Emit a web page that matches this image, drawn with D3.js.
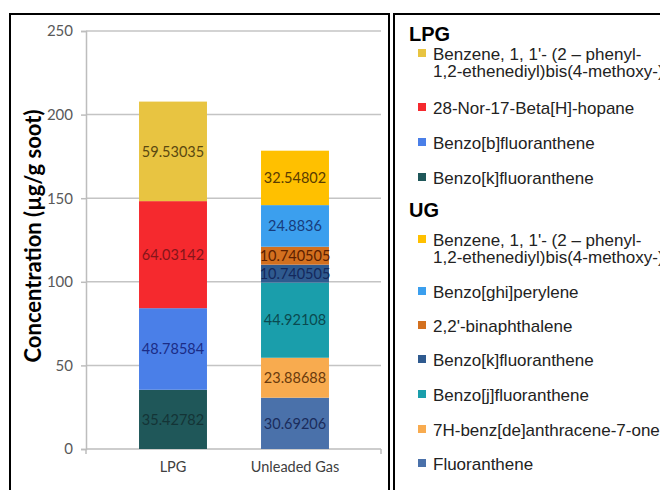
<!DOCTYPE html>
<html>
<head>
<meta charset="utf-8">
<script src="https://cdn.jsdelivr.net/npm/d3@7"></script>
<style>
  html, body { margin: 0; padding: 0; background: #fff; }
  svg { display: block; }
</style>
</head>
<body>
<svg id="chart" width="660" height="490"></svg>
<script>
// ---------- data ----------
const categories = ["LPG", "Unleaded Gas"];
const yTicks = [0, 50, 100, 150, 200, 250];

// LPG series, bottom to top of the stack
const lpgNames = [
  "Benzo[k]fluoranthene",
  "Benzo[b]fluoranthene",
  "28-Nor-17-Beta[H]-hopane",
  "Benzene, 1, 1'- (2 – phenyl-|1,2-ethenediyl)bis(4-methoxy-)"
];
const lpgValues = [35.42782, 48.78584, 64.03142, 59.53035];
const lpgLabels = ["35.42782", "48.78584", "64.03142", "59.53035"];
const lpgColors = ["#1f5759", "#4a7fe8", "#f5292e", "#e8c441"];
const lpgLabelColors = ["#143436", "#1b2c86", "#85151a", "#5a4810"];

// Unleaded Gas series, bottom to top of the stack
const ugNames = [
  "Fluoranthene",
  "7H-benz[de]anthracene-7-one",
  "Benzo[j]fluoranthene",
  "Benzo[k]fluoranthene",
  "2,2'-binaphthalene",
  "Benzo[ghi]perylene",
  "Benzene, 1, 1'- (2 – phenyl-|1,2-ethenediyl)bis(4-methoxy-)"
];
const ugValues = [30.69206, 23.88688, 44.92108, 10.740505, 10.740505, 24.8836, 32.54802];
const ugLabels = ["30.69206", "23.88688", "44.92108", "10.740505", "10.740505", "24.8836", "32.54802"];
const ugColors = ["#4a71aa", "#f8ab4f", "#1a9eab", "#2f5a8f", "#d3701f", "#3b9fee", "#ffc000"];
const ugLabelColors = ["#1a2c5c", "#6a3a0c", "#0a4a50", "#14285c", "#5c2000", "#173c7c", "#5a3c00"];

// ---------- drawing ----------
const svg = d3.select("#chart");

// panel borders
svg.append("rect").attr("x", 10).attr("y", 14).attr("width", 379).attr("height", 500)
  .attr("fill", "#fff").attr("stroke", "#000").attr("stroke-width", 2);
svg.append("rect").attr("x", 394).attr("y", 14).attr("width", 300).attr("height", 500)
  .attr("fill", "#fff").attr("stroke", "#000").attr("stroke-width", 2);

const y = d3.scaleLinear().domain([0, 250]).range([449, 31]);
const x = d3.scaleBand().domain(categories).range([112, 356])
  .paddingInner(0.443).paddingOuter(0.2215);
const plotLeft = 86, plotRight = 381;

// gridlines
svg.append("g").selectAll("line").data(yTicks.filter(d => d > 0)).join("line")
  .attr("x1", plotLeft).attr("x2", plotRight)
  .attr("y1", d => y(d)).attr("y2", d => y(d))
  .attr("stroke", "#c4c4c4").attr("stroke-width", 1.5);

// y axis
const yAxis = d3.axisLeft(y).tickValues(yTicks).tickSize(5).tickPadding(8);
const gy = svg.append("g").attr("transform", `translate(${plotLeft},0)`).call(yAxis);
gy.select(".domain").attr("stroke", "#bdbdbd").attr("stroke-width", 1.5);
gy.selectAll(".tick line").attr("stroke", "#bdbdbd").attr("stroke-width", 1.5);
gy.selectAll(".tick text").attr("fill", "#595959")
  .style("font-family", "Lato, 'Open Sans', sans-serif").style("font-size", "15px");
gy.selectAll(".tick text").attr("x", -13);

// x axis
const xAxis = d3.axisBottom(x).tickSize(0).tickPadding(13);
const gx = svg.append("g").attr("transform", `translate(0,${y(0)})`).call(xAxis);
gx.select(".domain").remove();
gx.selectAll(".tick text").attr("fill", "#404040")
  .style("font-family", "Lato, 'Open Sans', sans-serif").style("font-size", "14.5px");
svg.append("line").attr("x1", plotLeft).attr("x2", plotRight)
  .attr("y1", y(0)).attr("y2", y(0)).attr("stroke", "#bdbdbd").attr("stroke-width", 1.5);
[plotLeft, plotRight].forEach(px => {
  svg.append("line").attr("x1", px).attr("x2", px)
    .attr("y1", y(0)).attr("y2", y(0) + 5).attr("stroke", "#bdbdbd").attr("stroke-width", 1.5);
});

// stacked bars
function drawStack(cat, values, colors, labels, labelColors) {
  let acc = 0;
  const segs = values.map((v, i) => {
    const s = { y0: acc, y1: acc + v, color: colors[i], label: labels[i], lc: labelColors[i] };
    acc += v;
    return s;
  });
  const g = svg.append("g");
  g.selectAll("rect").data(segs).join("rect")
    .attr("x", x(cat)).attr("width", x.bandwidth())
    .attr("y", d => y(d.y1)).attr("height", d => y(d.y0) - y(d.y1))
    .attr("fill", d => d.color);
  g.selectAll("text").data(segs).join("text")
    .attr("x", x(cat) + x.bandwidth() / 2)
    .attr("y", d => (y(d.y0) + y(d.y1)) / 2)
    .attr("dy", "0.36em")
    .attr("text-anchor", "middle")
    .attr("fill", d => d.lc)
    .style("font-family", "Lato, 'Open Sans', sans-serif").style("font-size", "14.5px")
    .text(d => d.label);
}
drawStack(categories[0], lpgValues, lpgColors, lpgLabels, lpgLabelColors);
drawStack(categories[1], ugValues, ugColors, ugLabels, ugLabelColors);

// y axis title
svg.append("text")
  .attr("transform", "translate(41,236) rotate(-90)")
  .attr("text-anchor", "middle")
  .attr("fill", "#000")
  .style("font-family", "Lato, sans-serif").style("font-weight", "bold").style("font-size", "22px")
  .text("Concentration (µg/g soot)");

// legend
const legendFont = "'Liberation Sans', Arial, sans-serif";
function legendGroup(title, titleBaseline, names, colors, baselines) {
  svg.append("text").attr("x", 409).attr("y", titleBaseline)
    .style("font-family", legendFont).style("font-weight", "bold").style("font-size", "20px")
    .attr("fill", "#000").text(title);
  names.forEach((n, i) => {
    const lines = n.split("|");
    const b = baselines[i];
    svg.append("rect").attr("x", 418).attr("y", b - 11).attr("width", 8).attr("height", 8)
      .attr("fill", colors[i]);
    const t = svg.append("text").attr("x", 433).attr("y", b)
      .style("font-family", legendFont).style("font-size", "17px").attr("fill", "#222");
    lines.forEach((l, j) => {
      t.append("tspan").attr("x", 433).attr("y", b + j * 17).text(l);
    });
  });
}
// legend lists top-to-bottom = reverse of stack order
legendGroup("LPG", 41, lpgNames.slice().reverse(), lpgColors.slice().reverse(),
  [60, 114, 149, 184]);
legendGroup("UG", 217, ugNames.slice().reverse(), ugColors.slice().reverse(),
  [246, 298, 332, 366, 401, 436, 470]);
</script>
</body>
</html>
